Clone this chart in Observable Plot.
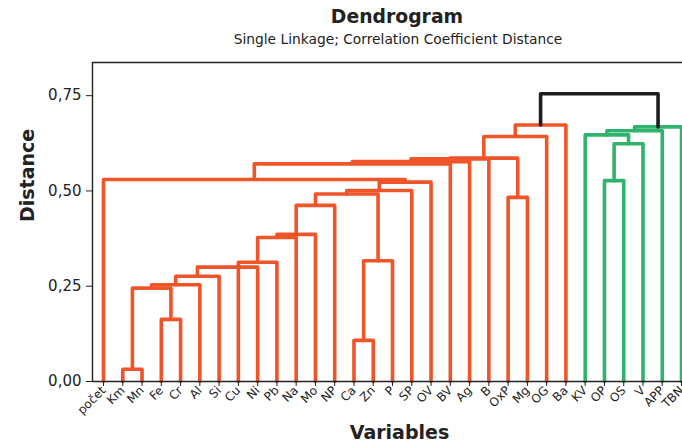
<!DOCTYPE html>
<html><head><meta charset="utf-8">
<script src="https://cdn.jsdelivr.net/npm/d3@7"></script>
<script src="https://cdn.jsdelivr.net/npm/@observablehq/plot@0.6"></script>
<style>
body{margin:0;background:#fff;font-family:"DejaVu Sans",sans-serif;color:#222;}
#wrap{position:relative;width:682px;height:442px;overflow:hidden;background:#fff;}
#head{position:relative;height:55px;}
#title{position:absolute;left:397px;top:6px;transform:translateX(-50%);font-weight:bold;font-size:18.8px;line-height:22px;white-space:nowrap;}
#sub{position:absolute;left:398px;top:31px;transform:translateX(-50%);font-size:13.8px;line-height:17px;white-space:nowrap;}
</style></head><body>
<div id="wrap"><div id="head"><div id="title">Dendrogram</div><div id="sub">Single Linkage; Correlation Coefficient Distance</div></div><div id="chart"></div></div>
<script>
const leaves = ["počet","Km","Mn","Fe","Cr","Al","Si","Cu","Ni","Pb","Na","Mo","NP","Ca","Zn","P","SP","OV","BV","Ag","B","OxP","Mg","OG","Ba","KV","OP","OS","V","APP","TBN"];
// linkage: each merge joins a left and right node (leaf name or earlier merge index)
const mergeLeft  = ["Km","Fe",0,2,3,4,"Cu",6,7,8,"Ca",10,9,12,13,"počet",15,16,17,"OxP",18,20,21,"OP",23,"KV",25,26,22];
const mergeRight = ["Mn","Cr",1,"Al","Si","Ni","Pb","Na","Mo","NP","Zn","P",11,"SP","OV",14,"BV","Ag","B","Mg",19,"OG","Ba","OS","V",24,"APP","TBN",27];
const mergeHeight = [0.032,0.163,0.245,0.254,0.276,0.300,0.313,0.378,0.386,0.462,0.108,0.317,0.492,0.501,0.523,0.530,0.571,0.577,0.584,0.483,0.586,0.643,0.673,0.527,0.624,0.647,0.658,0.668,0.755];
const mergeGroup = ["o","o","o","o","o","o","o","o","o","o","o","o","o","o","o","o","o","o","o","o","o","o","o","g","g","g","g","g","k"];
const yTicks = [0, 0.25, 0.5, 0.75];

const groupColor = {o: "#f0552a", g: "#30b46d", k: "#1e1e1e"};
const xDomain = [-0.571, 30.05];
const yDomain = [0, 0.837];

const posCache = {};
function pos(ref) {
  if (typeof ref === "string") return {x: leaves.indexOf(ref), h: 0};
  if (posCache[ref]) return posCache[ref];
  const a = pos(mergeLeft[ref]), b = pos(mergeRight[ref]);
  return posCache[ref] = {x: (a.x + b.x) / 2, h: mergeHeight[ref]};
}
const rows = [];
mergeHeight.forEach((h, k) => {
  const a = pos(mergeLeft[k]), b = pos(mergeRight[k]);
  const g = mergeGroup[k];
  rows.push({id: k, g, x: a.x, y: a.h}, {id: k, g, x: a.x, y: h}, {id: k, g, x: b.x, y: h}, {id: k, g, x: b.x, y: b.h});
});

const lineMark = g => Plot.line(rows.filter(r => r.g === g), {x: "x", y: "y", z: "id", stroke: groupColor[g], strokeWidth: 3.6, strokeLinejoin: "round"});

const chart = Plot.plot({
  width: 682, height: 387,
  marginTop: 7, marginBottom: 61, marginLeft: 92, marginRight: 0,
  style: {fontFamily: "DejaVu Sans", color: "#222", background: "#fff"},
  x: {domain: xDomain},
  y: {domain: yDomain},
  marks: [
    lineMark("o"), lineMark("g"), lineMark("k"),
    Plot.ruleY([yDomain[0]], {stroke: "#222", strokeWidth: 1.4}),
    Plot.ruleY([yDomain[1]], {stroke: "#222", strokeWidth: 1.4}),
    Plot.ruleX([xDomain[0]], {stroke: "#222", strokeWidth: 1.4}),
    Plot.axisY({ticks: yTicks, tickFormat: d => d.toFixed(2).replace(".", ","), tickSize: 6, tickPadding: 5, fontSize: 15, label: null}),
    Plot.axisX({ticks: d3.range(leaves.length), tickFormat: i => leaves[i], tickSize: 5, tickPadding: 2, tickRotate: -45, fontSize: 12, label: null}),
    Plot.text(["Variables"], {text: d => d, frameAnchor: "bottom", dx: 12, dy: 51, fontSize: 19, fontWeight: "bold", lineAnchor: "middle"}),
    Plot.text(["Distance"], {text: d => d, frameAnchor: "left", dx: -65, rotate: -90, fontSize: 19, fontWeight: "bold", lineAnchor: "middle"})
  ]
});
document.getElementById("chart").appendChild(chart);
</script>
</body></html>
